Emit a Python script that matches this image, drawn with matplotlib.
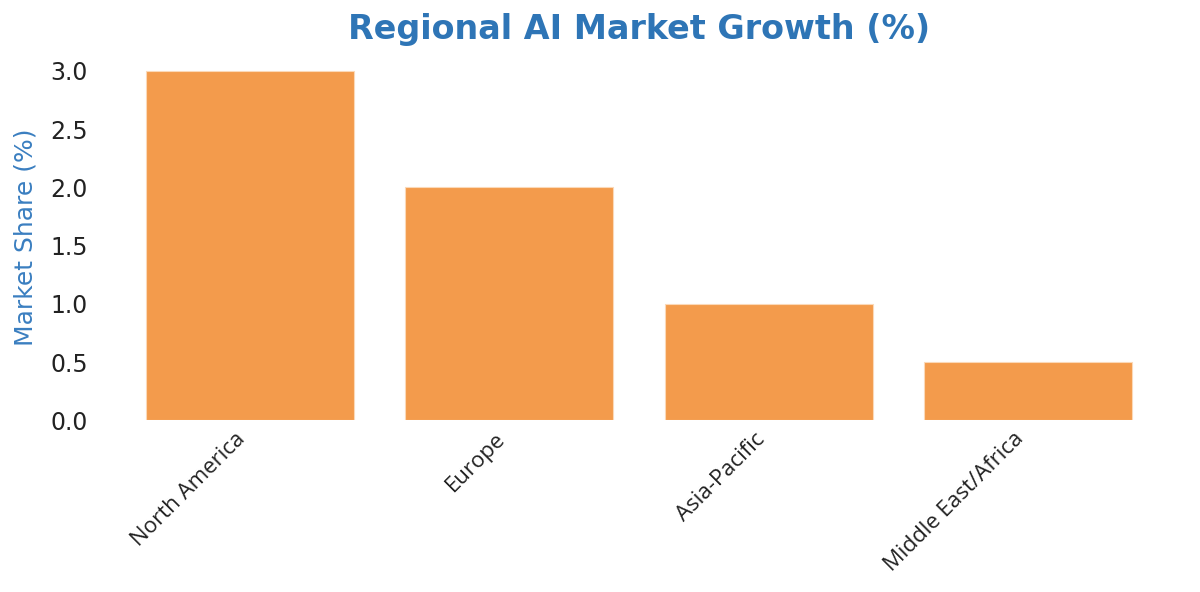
import matplotlib
matplotlib.use("Agg")
import matplotlib.pyplot as plt
import numpy as np

# Data
regions = ["North America", "Europe", "Asia-Pacific", "Middle East/Africa"]
growth = [3.0, 2.0, 1.0, 0.5]

BAR_COLOR = "#F39B4C"
BLUE = "#2E75B6"

fig = plt.figure(figsize=(12, 5.92), dpi=100)
ax = fig.add_axes([0.1, 0.29, 0.865, 0.62])

x = np.arange(len(regions))
ax.bar(x, growth, width=0.8, color=BAR_COLOR, edgecolor="#FBD9B8", linewidth=0.8)

ax.set_xlim(-0.5, len(regions) - 0.5)
ax.set_ylim(0, 3.15)
ax.set_yticks(np.arange(0, 3.01, 0.5))
ax.tick_params(axis="y", labelsize=17, length=0, colors="#222222", pad=23)
ax.tick_params(axis="x", length=0, pad=6)
ax.set_xticks(x)
ax.set_xticklabels(regions, rotation=45, ha="right",
                   fontsize=16, family=["Open Sans", "DejaVu Sans"], color="#222222")

for side in ax.spines.values():
    side.set_visible(False)

ax.set_ylabel("Market Share (%)", fontsize=18, color="#3A7EC0", labelpad=9)
ax.set_title("Regional AI Market Growth (%)", fontsize=24, fontweight="bold",
             color=BLUE, pad=10)

fig.savefig("out.png", dpi=100)
